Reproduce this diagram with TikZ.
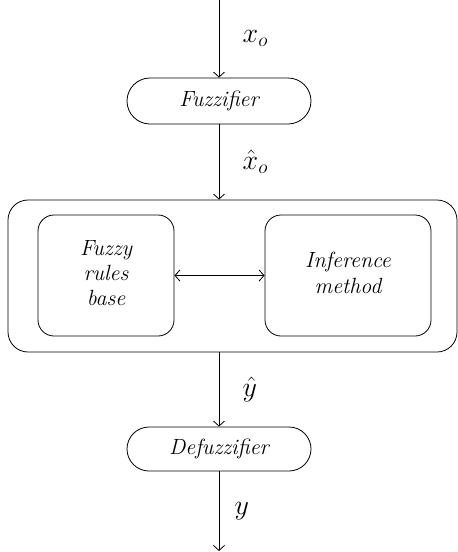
\documentclass[tikz,border=0pt]{standalone}
\usepackage{graphicx}
\usetikzlibrary{arrows.meta}
\newcommand{\sig}[1]{\scalebox{1.35}{$#1$}}
\newcommand{\blocktext}[1]{\scalebox{1.1}{\begin{tabular}{@{}c@{}}#1\end{tabular}}}
\begin{document}
\begin{tikzpicture}[x=1pt,y=-1pt,
	every node/.style={font=\fontsize{20}{23}\selectfont\itshape,align=center},
	block/.style={draw,thick,rounded corners=#1,inner sep=0},
	flow/.style={thick,-{Straight Barb[length=5pt,width=11pt]}},
	lbl/.style={right,xshift=20pt}]
\useasboundingbox (0,0) rectangle (458,552);
\coordinate (in) at (219,0);
\coordinate (out) at (219,551);
\node[block=23pt,minimum width=184pt,minimum height=46pt] (fuz) at (219,101) {\blocktext{Fuzzifier}};
\node[block=20pt,minimum width=449pt,minimum height=152pt] (sys) at (232.5,276) {};
\node[block=16pt,minimum width=136pt,minimum height=121pt] (rules) at (106,275.5) {\blocktext{Fuzzy\\rules\\base}};
\node[block=16pt,minimum width=166pt,minimum height=121pt] (inf) at (348,275.5) {\blocktext{Inference\\method}};
\node[block=22pt,minimum width=184pt,minimum height=44pt] (defuz) at (219,449) {\blocktext{Defuzzifier}};
\draw[flow] (in) -- node[lbl]{\sig{x_o}} (fuz);
\draw[flow] (fuz) -- node[lbl]{\sig{\hat{x}_o}} (fuz|-sys.north);
\draw[thick,{Straight Barb[length=5pt,width=11pt]}-{Straight Barb[length=5pt,width=11pt]}] (rules) -- (inf);
\draw[flow] (fuz|-sys.south) -- node[lbl]{\sig{\hat{y}}} (defuz);
\draw[flow] (defuz) -- node[lbl,xshift=-8pt]{\sig{y}} (out);
\end{tikzpicture}
\end{document}
